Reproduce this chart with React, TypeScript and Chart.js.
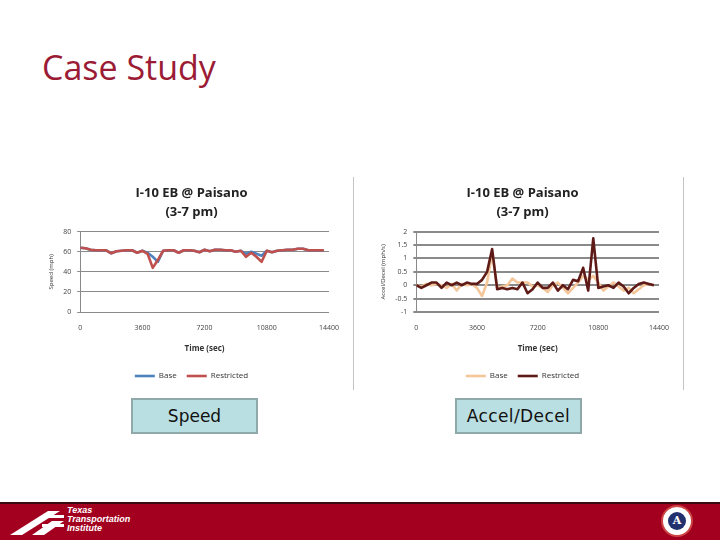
import React, { useEffect, useRef } from "react";
import { Chart, registerables } from "chart.js";

Chart.register(...registerables);

const timeSec = [
  0, 300, 600, 900, 1200, 1500, 1800, 2100, 2400, 2700, 3000, 3300, 3600, 3900, 4200, 4500,
  4800, 5100, 5400, 5700, 6000, 6300, 6600, 6900, 7200, 7500, 7800, 8100, 8400, 8700, 9000, 9300,
  9600, 9900, 10200, 10500, 10800, 11100, 11400, 11700, 12000, 12300, 12600, 12900, 13200, 13500, 13800, 14100,
];

const speedBase = [
  64, 63.5, 62, 61.5, 61.5, 61.5, 58.5, 60.5, 61, 61.5, 61.5, 59, 61, 59, 55, 50,
  61, 61.5, 61.5, 59, 61.5, 61.5, 61, 59.5, 62, 60.5, 62, 62, 61.5, 61.5, 60, 61,
  58, 60, 58, 56, 61, 59.5, 61, 61.5, 62, 62, 63, 63, 61.5, 61.5, 61.5, 61.5,
];

const speedRestricted = [
  64, 63.5, 62, 61.5, 61.5, 61.5, 58.5, 60.5, 61, 61.5, 61.5, 59, 61, 58, 44, 52,
  61, 61.5, 61.5, 59, 61.5, 61.5, 61, 59.5, 62, 60.5, 62, 62, 61.5, 61.5, 60, 61,
  55, 59, 55, 50, 61, 59.5, 61, 61.5, 62, 62, 63, 63, 61.5, 61.5, 61.5, 61.5,
];

const accelBase = [
  0, -0.05, 0.05, 0, 0.05, 0, -0.1, 0.05, -0.2, 0.05, 0, 0.05, -0.1, -0.4, 0.1, 1.2,
  -0.1, -0.05, 0, 0.25, 0.1, 0.1, 0.1, -0.05, 0, -0.1, -0.25, 0, 0.1, -0.1, -0.3, -0.1,
  0.1, 0.35, 0.2, 0.35, 0.1, -0.2, -0.05, 0.1, -0.05, -0.2, -0.1, -0.3, -0.15, 0, 0.05, 0,
];

const accelRestricted = [
  0, -0.1, 0, 0.1, 0.1, -0.1, 0.1, 0, 0.1, 0, 0.1, 0.05, 0.05, 0.2, 0.5, 1.35,
  -0.15, -0.1, -0.15, -0.1, -0.15, 0.1, -0.3, -0.15, 0.1, -0.1, -0.1, 0.1, -0.2, 0, -0.15, 0.2,
  0.15, 0.65, -0.2, 1.75, -0.1, -0.05, 0, -0.1, 0.1, -0.05, -0.3, -0.1, 0.05, 0.1, 0.05, 0,
];

const chartTitle = ["I-10 EB @ Paisano", "(3-7 pm)"];
const xTicks = [0, 3600, 7200, 10800, 14400];
const seriesNames = ["Base", "Restricted"];

type Cfg = {
  base: number[];
  restricted: number[];
  colors: [string, string];
  yMin: number;
  yMax: number;
  yStep: number;
  yTitle: string;
  gridWidth: number;
  padLeft: number;
  padRight: number;
};

function LineChart({ cfg }: { cfg: Cfg }) {
  const ref = useRef<HTMLCanvasElement>(null);
  useEffect(() => {
    if (!ref.current) return;
    const mk = (vals: number[]) => vals.map((v, i) => ({ x: timeSec[i], y: v }));
    const chart = new Chart(ref.current, {
      type: "line",
      data: {
        datasets: [
          {
            label: seriesNames[0],
            data: mk(cfg.base),
            borderColor: cfg.colors[0],
            backgroundColor: cfg.colors[0],
            borderWidth: 2.6,
            borderJoinStyle: "round",
            pointRadius: 0,
            tension: 0,
            order: 2,
          },
          {
            label: seriesNames[1],
            data: mk(cfg.restricted),
            borderColor: cfg.colors[1],
            backgroundColor: cfg.colors[1],
            borderWidth: 2.6,
            borderJoinStyle: "round",
            pointRadius: 0,
            tension: 0,
            order: 1,
          },
        ],
      },
      options: {
        animation: false,
        responsive: false,
        layout: { padding: { left: cfg.padLeft, right: cfg.padRight, top: 4, bottom: 0 } },
        plugins: {
          title: {
            display: true,
            text: chartTitle,
            color: "#222",
            font: { family: "Open Sans", size: 13, weight: "bold", lineHeight: 1.45 },
            padding: { top: 2, bottom: 10 },
          },
          legend: {
            position: "bottom",
            labels: {
              usePointStyle: true,
              pointStyle: "line",
              pointStyleWidth: 20,
              boxHeight: 3,
              color: "#333",
              font: { family: "Open Sans", size: 8 },
              padding: 10,
              sort: (a: any, b: any) => a.datasetIndex - b.datasetIndex,
            },
          },
          tooltip: { enabled: false },
        },
        scales: {
          x: {
            type: "linear",
            min: 0,
            max: 14400,
            afterBuildTicks: (axis: any) => {
              axis.ticks = xTicks.map((v) => ({ value: v }));
            },
            grid: { display: false, drawTicks: false },
            border: { display: false },
            ticks: {
              color: "#444",
              font: { family: "Open Sans", size: 7 },
              maxRotation: 0,
              padding: 12,
              callback: (v: any) => String(v),
            },
            title: {
              display: true,
              text: "Time (sec)",
              color: "#333",
              font: { family: "Open Sans", size: 8, weight: "bold" },
              padding: { top: 0, bottom: 8 },
            },
          },
          y: {
            min: cfg.yMin,
            max: cfg.yMax,
            ticks: {
              stepSize: cfg.yStep,
              color: "#444",
              font: { family: "Open Sans", size: 7 },
              padding: 6,
              callback: (v: any) => String(Math.round(Number(v) * 10) / 10),
            },
            grid: {
              color: "#8a8a8a",
              lineWidth: cfg.gridWidth,
              drawTicks: true,
              tickLength: 3,
              tickColor: "#8a8a8a",
            },
            border: { display: true, color: "#8a8a8a", width: 1 },
            title: {
              display: true,
              text: cfg.yTitle,
              color: "#333",
              font: { family: "Open Sans", size: 6 },
              padding: { top: 0, bottom: 2 },
            },
          },
        },
      },
    });
    return () => chart.destroy();
  }, [cfg]);
  return <canvas ref={ref} width={311} height={212} />;
}

const speedCfg: Cfg = {
  base: speedBase,
  restricted: speedRestricted,
  colors: ["#4F81BD", "#C0504D"],
  yMin: 0,
  yMax: 80,
  yStep: 20,
  yTitle: "Speed (mph)",
  gridWidth: 1,
  padLeft: 8,
  padRight: 16,
};

const accelCfg: Cfg = {
  base: accelBase,
  restricted: accelRestricted,
  colors: ["#F4C69A", "#5E1A17"],
  yMin: -1,
  yMax: 2,
  yStep: 0.5,
  yTitle: "Accel/Decel (mph/s)",
  gridWidth: 2,
  padLeft: 10,
  padRight: 16,
};

export default function App() {
  return (
    <div
      style={{
        position: "fixed",
        left: 0,
        top: 0,
        width: 720,
        height: 540,
        background: "#fff",
        overflow: "hidden",
        fontFamily: "Open Sans, sans-serif",
      }}
    >
      <div
        style={{
          position: "absolute",
          left: 42,
          top: 44,
          fontSize: 34,
          color: "#9B1B35",
          fontFamily: "Open Sans, sans-serif",
          lineHeight: "46px",
        }}
      >
        Case Study
      </div>

      <div style={{ position: "absolute", left: 40, top: 178 }}>
        <LineChart cfg={speedCfg} />
      </div>
      <div style={{ position: "absolute", left: 370, top: 178 }}>
        <LineChart cfg={accelCfg} />
      </div>
      <div style={{ position: "absolute", left: 353, top: 177, width: 1, height: 213, background: "#c4c4c4" }} />
      <div style={{ position: "absolute", left: 683, top: 177, width: 1, height: 213, background: "#c4c4c4" }} />

      <div
        style={{
          position: "absolute",
          left: 131,
          top: 398,
          width: 123,
          height: 32,
          background: "#B9DFE2",
          border: "2px solid #8FA9AA",
          fontSize: 17,
          lineHeight: "32px",
          textAlign: "center",
          color: "#111",
          fontFamily: "DejaVu Sans, sans-serif",
        }}
      >
        Speed
      </div>
      <div
        style={{
          position: "absolute",
          left: 455,
          top: 398,
          width: 123,
          height: 32,
          background: "#B9DFE2",
          border: "2px solid #8FA9AA",
          fontSize: 17,
          letterSpacing: 0.4,
          lineHeight: "32px",
          textAlign: "center",
          color: "#111",
          fontFamily: "DejaVu Sans, sans-serif",
        }}
      >
        Accel/Decel
      </div>

      <div style={{ position: "absolute", left: 0, top: 502, width: 720, height: 2, background: "#3a0a12" }} />
      <div style={{ position: "absolute", left: 0, top: 504, width: 720, height: 36, background: "#A30020" }} />
      <svg style={{ position: "absolute", left: 8, top: 507 }} width={60} height={30}>
        <polygon points="2,28 40,4 52,4 14,28" fill="#fff" />
        <polygon points="24,28 44,14 56,14 36,28" fill="#fff" />
        <rect x="38" y="8" width="18" height="3" fill="#fff" />
        <rect x="34" y="17" width="22" height="3" fill="#fff" />
      </svg>
      <div
        style={{
          position: "absolute",
          left: 67,
          top: 506,
          color: "#fff",
          fontStyle: "italic",
          fontWeight: "bold",
          fontSize: 9,
          lineHeight: "9px",
          fontFamily: "Liberation Sans, sans-serif",
        }}
      >
        Texas
        <br />
        Transportation
        <br />
        Institute
      </div>
      <div
        style={{
          position: "absolute",
          left: 661,
          top: 505,
          width: 32,
          height: 32,
          borderRadius: "50%",
          background: "#fff",
          border: "2px solid #c44",
          boxSizing: "border-box",
        }}
      >
        <div
          style={{
            position: "absolute",
            left: 5,
            top: 5,
            width: 18,
            height: 18,
            borderRadius: "50%",
            background: "#23306e",
            color: "#fff",
            fontSize: 11,
            fontWeight: "bold",
            textAlign: "center",
            lineHeight: "18px",
            fontFamily: "DejaVu Serif, serif",
          }}
        >
          A
        </div>
      </div>
    </div>
  );
}
